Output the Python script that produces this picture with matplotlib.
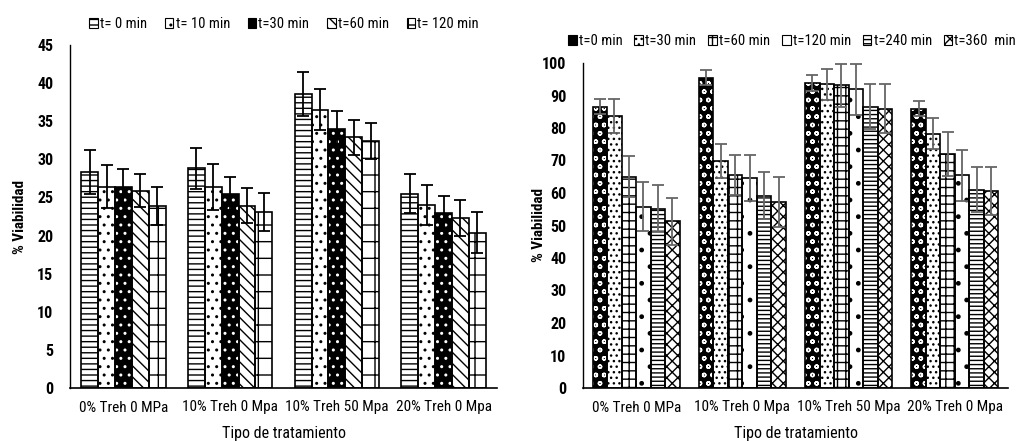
import matplotlib
matplotlib.use("Agg")
import matplotlib.pyplot as plt
from matplotlib.patches import Patch
import numpy as np

plt.rcParams['font.family'] = ['Roboto Condensed', 'Archivo Narrow', 'Liberation Sans', 'DejaVu Sans']
plt.rcParams['hatch.linewidth'] = 1.0

categories = ["0% Treh 0 MPa", "10% Treh 0 Mpa", "10% Treh 50 Mpa", "20% Treh 0 Mpa"]

# Left chart
left_series = ["t= 0 min", "t= 10 min", "t=30 min", "t=60 min", "t= 120 min"]
left_values = [
    [28.3, 28.8, 38.6, 25.5],
    [26.4, 26.4, 36.5, 24.0],
    [26.4, 25.5, 34.0, 22.9],
    [25.9, 23.9, 32.9, 22.3],
    [23.9, 23.1, 32.4, 20.4],
]
left_errors = [
    [2.9, 2.7, 2.9, 2.6],
    [2.8, 3.0, 2.7, 2.6],
    [2.3, 2.2, 2.3, 2.3],
    [2.2, 2.3, 2.3, 2.3],
    [2.5, 2.5, 2.4, 2.7],
]

# Right chart
right_series = ["t=0 min", "t=30 min", "t=60 min", "t=120 min", "t=240 min", "t=360  min"]
right_values = [
    [86.6, 95.5, 93.9, 86.0],
    [83.7, 69.9, 93.5, 78.2],
    [65.0, 65.5, 93.1, 71.9],
    [55.8, 64.6, 91.9, 65.4],
    [55.2, 59.2, 86.6, 61.0],
    [51.3, 57.2, 86.0, 60.5],
]
right_errors = [
    [2.3, 2.3, 2.4, 2.4],
    [5.2, 5.3, 4.8, 4.8],
    [6.3, 6.2, 6.6, 6.8],
    [7.6, 7.1, 7.8, 7.8],
    [7.2, 7.2, 6.8, 6.9],
    [7.3, 7.7, 7.4, 7.4],
]

# styles: (facecolor, hatch, hatchcolor)
left_styles = [("white", "---", "black"), ("white", "..", "black"), ("black", "..", "white"),
               ("white", "\\\\\\", "black"), ("white", "+", "black")]
right_styles = [("black", "oo", "white"), ("white", "...", "black"), ("white", "++", "black"),
                ("white", ".", "black"), ("white", "----", "black"), ("white", "xxx", "black")]

fig = plt.figure(figsize=(10.21, 4.41), dpi=100)
W, H = 1021, 441
axL = fig.add_axes([70 / W, 1 - 388 / H, 427 / W, 343 / H])
axR = fig.add_axes([583 / W, 1 - 388 / H, 425 / W, 325 / H])


def draw(ax, values, errors, styles, group_w, ecolor):
    n = len(values)
    x = np.arange(len(categories))
    bw = group_w / n
    for i, (vals, errs, st) in enumerate(zip(values, errors, styles)):
        pos = x - group_w / 2 + bw * (i + 0.5)
        fc, hatch, hc = st
        ax.bar(pos, vals, width=bw, color=fc, edgecolor=hc, hatch=hatch, linewidth=0, zorder=2)
        ax.bar(pos, vals, width=bw, fill=False, edgecolor="black", linewidth=1.2, zorder=3)
        ax.errorbar(pos, vals, yerr=errs, fmt="none", ecolor=ecolor, elinewidth=1.3,
                    capsize=4, capthick=1.3, zorder=4)
    ax.set_xlim(-0.5, len(categories) - 0.5)
    ax.set_xticks(x)
    ax.set_xticklabels(categories, fontsize=11)
    ax.tick_params(axis="x", length=0, pad=9)
    ax.tick_params(axis="y", length=0, labelsize=11.5, pad=12)
    for s in ["top", "right"]:
        ax.spines[s].set_visible(False)
    ax.spines["left"].set_linewidth(1.0)
    ax.spines["bottom"].set_linewidth(1.2)
    ax.set_xlabel("Tipo de tratamiento", fontsize=11.5, labelpad=8)
    ax.set_ylabel("% Viabilidad", fontsize=11, fontweight="bold")


draw(axL, left_values, left_errors, left_styles, 0.79, "black")
axL.set_ylim(0, 45)
axL.set_yticks(np.arange(0, 46, 5))
for lab in axL.get_yticklabels():
    lab.set_fontweight("bold")
axL.yaxis.set_label_coords(-0.10, 0.5)

draw(axR, right_values, right_errors, right_styles, 0.82, "#666666")
axR.set_ylim(0, 100)
axR.set_yticks(np.arange(0, 101, 10))
for lab in axR.get_yticklabels():
    lab.set_fontweight("bold")
axR.yaxis.set_label_coords(-0.087, 0.5)


def legend_handles(styles, names):
    hs = []
    for (fc, hatch, hc), nm in zip(styles, names):
        hs.append(Patch(facecolor=fc, edgecolor="black", hatch=None if fc == "black" else hatch,
                        linewidth=0.8, label=nm))
    return hs


fig.legend(handles=legend_handles(left_styles, left_series), loc="upper left",
           bbox_to_anchor=(76 / W, 1 - 4 / H), ncol=5, frameon=False, fontsize=10.5,
           handlelength=0.6, handleheight=0.6, handletextpad=0.15, columnspacing=1.2)
fig.legend(handles=legend_handles(right_styles, right_series), loc="upper left",
           bbox_to_anchor=(555 / W, 1 - 21 / H), ncol=6, frameon=False, fontsize=10.5,
           handlelength=0.6, handleheight=0.6, handletextpad=0.15, columnspacing=0.8)

fig.savefig("out.png", dpi=100)
